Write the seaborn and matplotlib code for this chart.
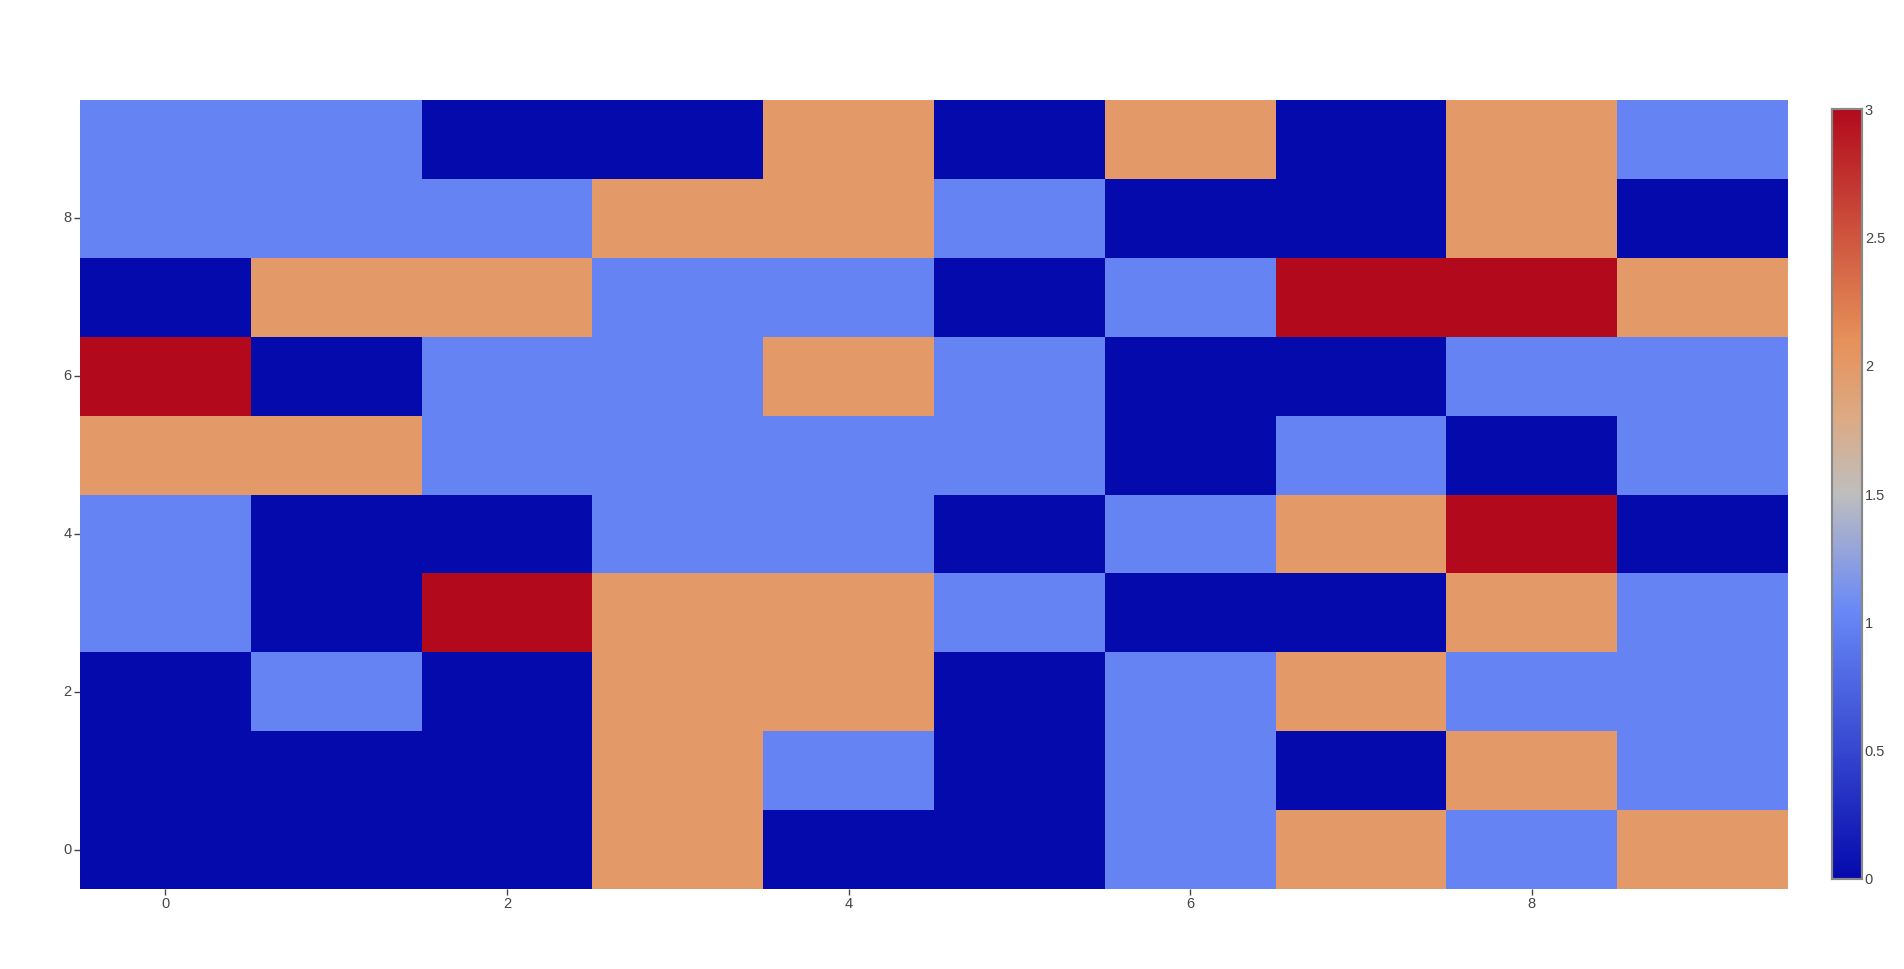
import numpy as np
import pandas as pd
import matplotlib
matplotlib.use("Agg")
import matplotlib.pyplot as plt
import seaborn as sns
from matplotlib.colors import LinearSegmentedColormap

# values, row 0 is the bottom row
z_rows = [
    [0, 0, 0, 2, 0, 0, 1, 2, 1, 2],
    [0, 0, 0, 2, 1, 0, 1, 0, 2, 1],
    [0, 1, 0, 2, 2, 0, 1, 2, 1, 1],
    [1, 0, 3, 2, 2, 1, 0, 0, 2, 1],
    [1, 0, 0, 1, 1, 0, 1, 2, 3, 0],
    [2, 2, 1, 1, 1, 1, 0, 1, 0, 1],
    [3, 0, 1, 1, 2, 1, 0, 0, 1, 1],
    [0, 2, 2, 1, 1, 0, 1, 3, 3, 2],
    [1, 1, 1, 2, 2, 1, 0, 0, 2, 0],
    [1, 1, 0, 0, 2, 0, 2, 0, 2, 1],
]
x_labels = list(range(10))
y_labels = list(range(10))
x_tick_vals = [0, 2, 4, 6, 8]
y_tick_vals = [0, 2, 4, 6, 8]
cbar_ticks = [0, 0.5, 1, 1.5, 2, 2.5, 3]

stops = [(0.0, (5, 10, 172)), (0.35, (106, 137, 247)), (0.5, (190, 190, 190)),
         (0.6, (220, 170, 132)), (0.7, (230, 145, 90)), (1.0, (178, 10, 28))]
cmap = LinearSegmentedColormap.from_list(
    "plotly_rdbu_r", [(p, tuple(c / 255 for c in rgb)) for p, rgb in stops])

sns.set_style("white")
plt.rcParams['font.family'] = ['Liberation Sans', 'DejaVu Sans']

W, H = 1904, 969
fig = plt.figure(figsize=(W / 100, H / 100), dpi=100)
ax = fig.add_axes([80 / W, (H - 889) / H, (1788 - 80) / W, (889 - 100) / H])
cax = fig.add_axes([1832 / W, (H - 879) / H, 30 / W, 770 / H])

df = pd.DataFrame(z_rows, index=y_labels, columns=x_labels)
sns.heatmap(df, ax=ax, cbar_ax=cax, cmap=cmap, vmin=0, vmax=3,
            cbar_kws={"ticks": cbar_ticks})
ax.invert_yaxis()

ax.set_xticks([v + 0.5 for v in x_tick_vals])
ax.set_xticklabels([str(v) for v in x_tick_vals], rotation=0)
ax.set_yticks([v + 0.5 for v in y_tick_vals])
ax.set_yticklabels([str(v) for v in y_tick_vals], rotation=0)
ax.set_xlabel("")
ax.set_ylabel("")
ax.tick_params(axis="both", which="both", length=4, width=1, color="#444444",
               labelcolor="#444444", labelsize=10.5, pad=2, direction="out",
               bottom=True, left=True)
for s in ax.spines.values():
    s.set_visible(False)

cax.tick_params(length=0, labelsize=10.5, labelcolor="#444444", pad=2)
cax.set_yticklabels([f"{t:g}" for t in cbar_ticks])
for s in cax.spines.values():
    s.set_visible(True)
    s.set_color("#888888")
    s.set_linewidth(1.5)

fig.savefig("out.png", dpi=100)
